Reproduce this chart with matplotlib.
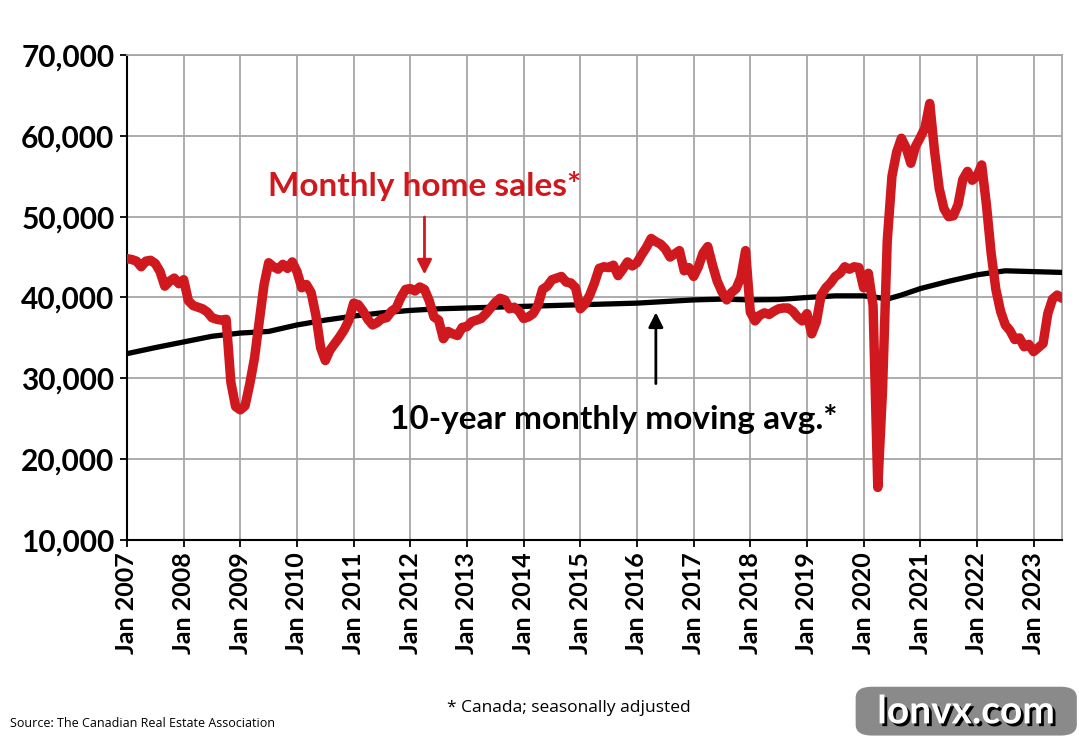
import matplotlib
matplotlib.use("Agg")
import matplotlib.pyplot as plt
import matplotlib.patheffects as pe
from matplotlib.patches import FancyBboxPatch

# monthly home sales, Jan 2007 .. Jul 2023 (seasonally adjusted)
sales = [
    44800, 44700, 44500, 43800, 44500, 44600, 44200, 43200, 41400, 42000, 42400, 41700,  # 2007
    42200, 39600, 39000, 38800, 38600, 38200, 37500, 37300, 37200, 37300, 29500, 26500,  # 2008
    26100, 26600, 29300, 32500, 37000, 41500, 44300, 43800, 43500, 44100, 43600, 44400,  # 2009
    43200, 41200, 41600, 40600, 37800, 33800, 32200, 33500, 34300, 35100, 36000, 37200,  # 2010
    39300, 39100, 38300, 37300, 36600, 36900, 37400, 37500, 38300, 38700, 40000, 41000,  # 2011
    41100, 40800, 41300, 41000, 39600, 37600, 37200, 34900, 35800, 35500, 35300, 36300,  # 2012
    36400, 37000, 37200, 37400, 38000, 38700, 39400, 39900, 39700, 38600, 38800, 38300,  # 2013
    37400, 37600, 38000, 39000, 41000, 41400, 42200, 42400, 42600, 41900, 41800, 41200,  # 2014
    38600, 39200, 40300, 41800, 43600, 43800, 43700, 44000, 42700, 43500, 44400, 43900,  # 2015
    44300, 45300, 46200, 47300, 46900, 46600, 46000, 45000, 45400, 45800, 43300, 43700,  # 2016
    42600, 43800, 45500, 46300, 44000, 42000, 40700, 39700, 40600, 41100, 42500, 45800,  # 2017
    38200, 37100, 37800, 38100, 37900, 38300, 38600, 38700, 38700, 38300, 37600, 37100,  # 2018
    38000, 35500, 37000, 40300, 41200, 41800, 42600, 43000, 43800, 43500, 43800, 43700,  # 2019
    41200, 43000, 39000, 16500, 28500, 47000, 55000, 58000, 59700, 58500, 56600, 58700,  # 2020
    59800, 61000, 64000, 58200, 53500, 51000, 50000, 50100, 51500, 54600, 55600, 54500,  # 2021
    55000, 56400, 51500, 45500, 41000, 38300, 36600, 35900, 34800, 35000, 33900, 34200,  # 2022
    33300, 33800, 34300, 38000, 39800, 40300, 39900,                                     # 2023
]

# 10-year moving average, read every six months
ma_month = [0, 6, 12, 18, 24, 30, 36, 42, 48, 54, 60, 66, 72, 78, 84, 90, 96, 102, 108,
            114, 120, 126, 132, 138, 144, 150, 156, 159, 161, 164, 168, 174, 180, 186, 192, 198]
ma_value = [33050, 33800, 34500, 35200, 35600, 35800, 36600, 37200, 37700, 38100, 38400,
            38600, 38700, 38800, 38900, 39000, 39100, 39200, 39300, 39500, 39700, 39800,
            39700, 39750, 40000, 40200, 40200, 40000, 39800, 40300, 41100, 42000, 42800,
            43300, 43200, 43100]

years = list(range(2007, 2024))
tick_labels = [f"Jan {y}" for y in years]
y_ticks = [10000, 20000, 30000, 40000, 50000, 60000, 70000]

RED = "#d0191f"
GRID = "#a6a6a6"

fig = plt.figure(figsize=(10.79, 7.40), dpi=100)
ax = fig.add_axes([0.1177, 0.2703, 0.8665, 0.6554])

months = list(range(len(sales)))
ax.plot(ma_month, ma_value, color="black", lw=3.8, solid_capstyle="round", zorder=3)
ax.plot(months, sales, color=RED, lw=6.8, solid_joinstyle="round", solid_capstyle="round", zorder=4)

ax.set_xlim(0, 198)
ax.set_ylim(10000, 70000)
ax.set_xticks([12 * i for i in range(len(years))])
ax.set_xticklabels(tick_labels, rotation=90, fontsize=18, fontweight="bold", family="Lato")
ax.set_yticks(y_ticks)
ax.set_yticklabels([f"{v:,}" for v in y_ticks], fontsize=21.5, fontweight="bold", family="Lato")
ax.grid(True, color=GRID, lw=1.3)
ax.set_axisbelow(True)
for s in ["top", "right"]:
    ax.spines[s].set_color(GRID)
    ax.spines[s].set_linewidth(1.3)
for s in ["left", "bottom"]:
    ax.spines[s].set_color("black")
    ax.spines[s].set_linewidth(1.5)
ax.tick_params(axis="both", direction="out", length=5, width=1.3, pad=4)

# annotations
ax.text(63, 53800, "Monthly home sales*", color=RED, fontsize=24, fontweight="bold",
        family="Lato", ha="center", va="center")
ax.annotate("", xy=(63, 42500), xytext=(63, 50300),
            arrowprops=dict(arrowstyle="-|>", color=RED, lw=2, mutation_scale=22))
ax.text(103, 25000, "10-year monthly moving avg.*", color="black", fontsize=24,
        fontweight="bold", family="Lato", ha="center", va="center")
ax.annotate("", xy=(112, 38500), xytext=(112, 29000),
            arrowprops=dict(arrowstyle="-|>", color="black", lw=2, mutation_scale=22))

fig.text(0.527, 0.043, "* Canada; seasonally adjusted", fontsize=12.5, family="Open Sans",
         ha="center", va="center")
fig.text(0.009, 0.022, "Source: The Canadian Real Estate Association", fontsize=9,
         family="Open Sans", ha="left", va="center")

# watermark
box = FancyBboxPatch((0.793, 0.006), 0.205, 0.066, boxstyle="round,pad=0,rounding_size=0.015",
                     transform=fig.transFigure, facecolor="#8a8a8a", edgecolor="none")
fig.patches.append(box)
fig.text(0.895, 0.038, "lonvx.com", fontsize=28, fontweight="bold", family="Lato",
         color="white", ha="center", va="center",
         path_effects=[pe.withSimplePatchShadow(offset=(2, -2), shadow_rgbFace="black", alpha=1)])

fig.savefig("out.png", dpi=100)
